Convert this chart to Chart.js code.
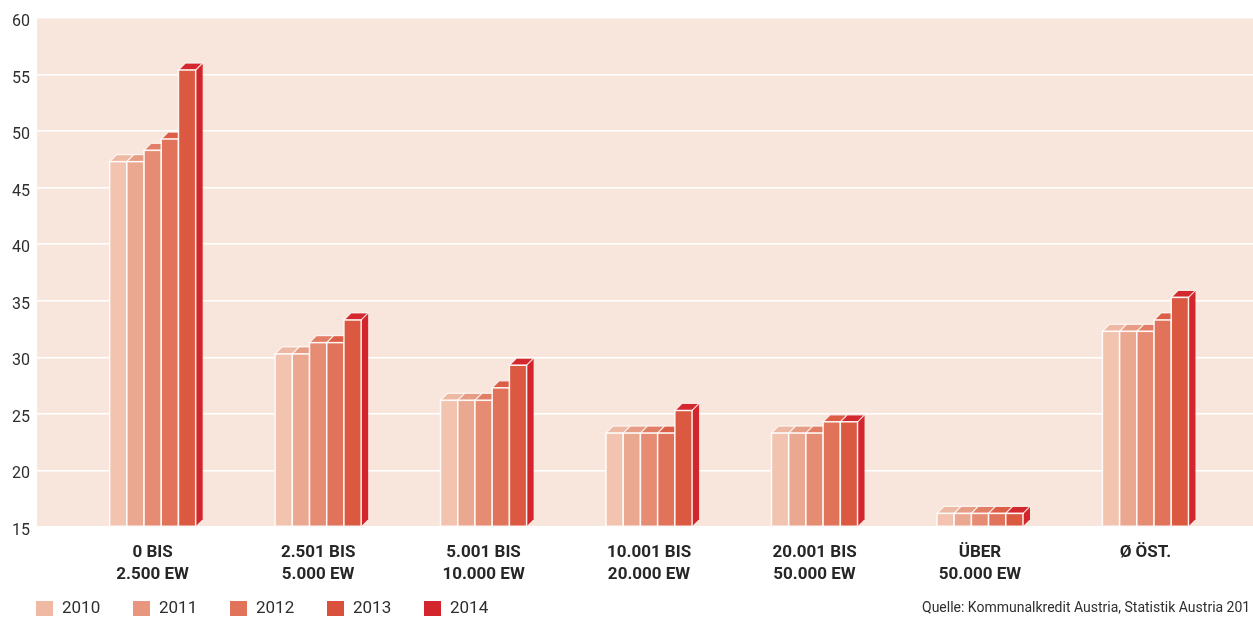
<!DOCTYPE html>
<html>
<head>
<meta charset="utf-8">
<script src="https://cdn.jsdelivr.net/npm/chart.js@4/dist/chart.umd.min.js"></script>
<style>
  html, body { margin: 0; padding: 0; background: #ffffff; }
  #wrap { width: 1253px; height: 617px; position: relative; }
</style>
</head>
<body>
<div id="wrap"><canvas id="chart" width="1253" height="617"></canvas></div>
<script>
// Municipality size classes (inhabitants, EW)
const categories = [
  ['0 BIS', '2.500 EW'],
  ['2.501 BIS', '5.000 EW'],
  ['5.001 BIS', '10.000 EW'],
  ['10.001 BIS', '20.000 EW'],
  ['20.001 BIS', '50.000 EW'],
  ['ÜBER', '50.000 EW'],
  ['Ø ÖST.']
];

const years = ['2010', '2011', '2012', '2013', '2014'];

const values2010 = [47.3, 30.3, 26.2, 23.3, 23.3, 16.2, 32.3];
const values2011 = [47.3, 30.3, 26.2, 23.3, 23.3, 16.2, 32.3];
const values2012 = [48.3, 31.3, 26.2, 23.3, 23.3, 16.2, 32.3];
const values2013 = [49.3, 31.3, 27.3, 23.3, 24.3, 16.2, 33.3];
const values2014 = [55.4, 33.3, 29.3, 25.3, 24.3, 16.2, 35.3];

const yTicks = [15, 20, 25, 30, 35, 40, 45, 50, 55, 60];

const sourceNote = 'Quelle: Kommunalkredit Austria, Statistik Austria 201';

// Colours: legend swatch, front face, top face, side face
const legendColors = ['#f0b9a3', '#e8967d', '#e0735a', '#d9513c', '#d3262c'];
const frontColors  = ['#f2c3af', '#eba891', '#e68c73', '#e0735a', '#db5941'];
const topColors    = ['#edb9a4', '#e79d85', '#e27e66', '#dc5e47', '#d3282d'];
const sideColors   = ['#e6a893', '#e08b72', '#da6c53', '#d2503b', '#d3262c'];

const FONT = 'Roboto, "Liberation Sans", "DejaVu Sans", sans-serif';

const seriesValues = [values2010, values2011, values2012, values2013, values2014];

const datasets = years.map((yr, i) => ({
  label: yr,
  data: seriesValues[i].map((v, idx) => ({ x: idx, y: v })),
  base: yTicks[0],
  backgroundColor: frontColors[i],
  borderWidth: 0
}));

// Pale plot background behind the grid
const plotBackground = {
  id: 'plotBackground',
  beforeDraw(chart) {
    const { ctx, chartArea } = chart;
    ctx.save();
    ctx.fillStyle = '#f8e5dc';
    ctx.fillRect(chartArea.left, chartArea.top, chartArea.right - chartArea.left, chartArea.bottom - chartArea.top);
    ctx.restore();
  }
};

// Draws each bar as a block: side face, top face, then front face,
// left to right so the next bar covers the previous side face.
const blockBars = {
  id: 'blockBars',
  afterDatasetsDraw(chart) {
    const ctx = chart.ctx;
    const dx = 7, dy = 7;
    const bottom = chart.chartArea.bottom;
    ctx.save();
    ctx.lineJoin = 'miter';
    chart.data.datasets.forEach((ds, di) => {
      const meta = chart.getDatasetMeta(di);
      meta.data.forEach(el => {
        const p = el.getProps(['x', 'y', 'base', 'width'], true);
        const l = p.x - p.width / 2;
        const r = p.x + p.width / 2;
        const t = p.y;
        const b = Math.min(p.base, bottom);

        // side face
        ctx.beginPath();
        ctx.moveTo(r, t);
        ctx.lineTo(r + dx, t - dy);
        ctx.lineTo(r + dx, b - dy);
        ctx.lineTo(r, b);
        ctx.closePath();
        ctx.fillStyle = sideColors[di];
        ctx.fill();

        // top face
        ctx.beginPath();
        ctx.moveTo(l, t);
        ctx.lineTo(l + dx, t - dy);
        ctx.lineTo(r + dx, t - dy);
        ctx.lineTo(r, t);
        ctx.closePath();
        ctx.fillStyle = topColors[di];
        ctx.fill();
        ctx.strokeStyle = 'rgba(255,255,255,0.75)';
        ctx.lineWidth = 1.2;
        ctx.stroke();

        // front face
        ctx.fillStyle = frontColors[di];
        ctx.fillRect(l, t, r - l, b - t);
        ctx.strokeStyle = 'rgba(255,255,255,0.9)';
        ctx.lineWidth = 1.5;
        ctx.strokeRect(l, t, r - l, b - t);
      });
    });
    ctx.restore();
  }
};

// Legend row and source note along the bottom edge
const footer = {
  id: 'footer',
  afterDraw(chart) {
    const ctx = chart.ctx;
    ctx.save();
    const y = 608.5;
    years.forEach((yr, i) => {
      const x = 36 + i * 97;
      ctx.fillStyle = legendColors[i];
      ctx.fillRect(x, 601, 17, 15);
      ctx.fillStyle = '#2e2e2e';
      ctx.font = '17px ' + FONT;
      ctx.textBaseline = 'middle';
      ctx.textAlign = 'left';
      ctx.fillText(yr, x + 26, y);
    });
    ctx.font = '14px ' + FONT;
    ctx.fillStyle = '#2e2e2e';
    ctx.textBaseline = 'middle';
    ctx.textAlign = 'left';
    ctx.fillText(sourceNote, 922, y);
    ctx.restore();
  }
};

new Chart(document.getElementById('chart'), {
  type: 'bar',
  data: { datasets },
  plugins: [plotBackground, blockBars, footer],
  options: {
    responsive: false,
    animation: false,
    layout: { padding: { top: 18, right: 0, left: 0, bottom: 0 } },
    datasets: {
      bar: { categoryPercentage: 0.52, barPercentage: 1.0 }
    },
    plugins: {
      legend: { display: false },
      tooltip: { enabled: false },
      title: { display: false }
    },
    scales: {
      x: {
        type: 'linear',
        offset: false,
        min: -0.699,
        max: 6.650,
        grid: { display: false, drawTicks: false },
        border: { display: false },
        afterFit(scale) { scale.height = 90; },
        afterBuildTicks(scale) {
          scale.ticks = categories.map((c, i) => ({ value: i }));
        },
        ticks: {
          autoSkip: false,
          maxRotation: 0,
          padding: 15,
          color: '#262626',
          font: { family: FONT, size: 17, weight: 'bold', lineHeight: '22px' },
          callback: (value) => categories[value] || ''
        }
      },
      y: {
        min: 15,
        max: 60,
        afterFit(scale) { scale.width = 37; },
        afterBuildTicks(scale) {
          scale.ticks = yTicks.map(v => ({ value: v }));
        },
        grid: { color: '#ffffff', lineWidth: 1.5, drawTicks: false },
        border: { display: false },
        ticks: {
          padding: 7,
          labelOffset: 4,
          color: '#2e2e2e',
          font: { family: FONT, size: 16 }
        }
      }
    }
  }
});
</script>
</body>
</html>
